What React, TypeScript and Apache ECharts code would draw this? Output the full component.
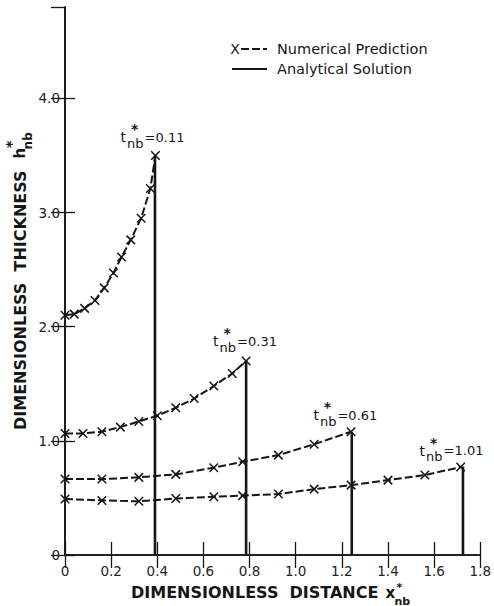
import React, { useEffect, useRef } from "react";
import * as echarts from "echarts";

// ---- data ----
const xTickValues = [0, 0.2, 0.4, 0.6, 0.8, 1.0, 1.2, 1.4, 1.6, 1.8];
const yTickValues = [0, 1, 2, 3, 4];

const t011X = [0, 0.04, 0.085, 0.13, 0.17, 0.21, 0.245, 0.285, 0.33, 0.37, 0.392];
const t011Y = [2.1, 2.11, 2.16, 2.23, 2.34, 2.47, 2.61, 2.76, 2.95, 3.21, 3.5];

const t031X = [0, 0.078, 0.16, 0.24, 0.32, 0.4, 0.48, 0.56, 0.645, 0.725, 0.785];
const t031Y = [1.065, 1.065, 1.08, 1.12, 1.17, 1.22, 1.29, 1.37, 1.48, 1.59, 1.7];

const t061X = [0, 0.16, 0.32, 0.48, 0.645, 0.77, 0.925, 1.08, 1.24];
const t061Y = [0.665, 0.665, 0.68, 0.706, 0.765, 0.816, 0.875, 0.97, 1.08];

const t101X = [0, 0.16, 0.32, 0.48, 0.645, 0.77, 0.925, 1.08, 1.24, 1.4, 1.56, 1.715];
const t101Y = [0.49, 0.478, 0.47, 0.495, 0.51, 0.52, 0.534, 0.577, 0.612, 0.656, 0.7, 0.77];

// analytical solution fronts (x position, height)
const frontX = [0.39, 0.785, 1.243, 1.725];
const frontH = [3.5, 1.7, 1.08, 0.775];

// t*nb annotations: value text and anchor in data coordinates
const tLabels = ["0.11", "0.31", "0.61", "1.01"];
const tLabelX = [0.241, 0.642, 1.077, 1.537];
const tLabelY = [3.66, 1.874, 1.226, 0.911];

const INK = "#161616";
const FONT = '"DejaVu Sans", "Liberation Sans", sans-serif';
const X_SYMBOL = "path://M0,0L10,10M10,0L0,10";

function measure(text: string, font: string): number {
  const c = document.createElement("canvas").getContext("2d");
  if (!c) return text.length * 8;
  c.font = font;
  return c.measureText(text).width;
}

function fmt(v: number): string {
  if (Math.abs(v) < 1e-9) return "0";
  return v.toFixed(1);
}

export default function App() {
  const ref = useRef<HTMLDivElement>(null);

  useEffect(() => {
    document.body.style.margin = "0";
    const chart = echarts.init(ref.current!, null, { renderer: "svg" });

    const numerical = [
      [t011X, t011Y],
      [t031X, t031Y],
      [t061X, t061Y],
      [t101X, t101Y],
    ].map(([xs, ys], k) => ({
      type: "line",
      name: "Numerical Prediction " + k,
      data: xs.map((x, i) => [x, ys[i]]),
      symbol: X_SYMBOL,
      symbolSize: 8.5,
      showAllSymbol: true,
      itemStyle: { color: INK, borderColor: INK, borderWidth: 1.5 },
      lineStyle: { color: INK, width: 2, type: [8, 3] },
      z: 3,
    }));

    const analytical = frontX.map((x, i) => ({
      type: "line",
      name: "Analytical Solution " + i,
      data: [
        [x, 0],
        [x, frontH[i]],
      ],
      symbol: "none",
      lineStyle: { color: INK, width: 2.6, type: "solid" },
      z: 4,
    }));

    const axisLine = { show: true, lineStyle: { color: INK, width: 1.6 } };

    chart.setOption({
      animation: false,
      backgroundColor: "#ffffff",
      grid: { left: 65, right: 11, top: 7, bottom: 51, containLabel: false },
      xAxis: [
        {
          type: "value",
          min: 0,
          max: 1.8,
          interval: 0.2,
          position: "bottom",
          axisLine,
          axisTick: { show: true, inside: true, length: 13, lineStyle: { color: INK, width: 1.3 } },
          axisLabel: {
            show: true,
            margin: 9,
            color: "#222",
            fontFamily: FONT,
            fontSize: 13.5,
            formatter: (v: number) => (xTickValues.some((t) => Math.abs(t - v) < 1e-6) ? fmt(v) : ""),
          },
          splitLine: { show: false },
        },
        {
          type: "value",
          min: 0,
          max: 1.8,
          interval: 0.2,
          position: "top",
          axisLine,
          axisTick: { show: true, inside: true, length: 13, lineStyle: { color: INK, width: 1.3 } },
          axisLabel: { show: false },
          splitLine: { show: false },
        },
      ],
      yAxis: [
        {
          type: "value",
          min: 0,
          max: 4.8,
          interval: 1,
          position: "left",
          axisLine,
          axisTick: { show: true, inside: true, length: 10, lineStyle: { color: INK, width: 1.3 } },
          axisLabel: {
            show: true,
            margin: 5,
            color: "#222",
            fontFamily: FONT,
            fontSize: 13.5,
            showMaxLabel: false,
            formatter: (v: number) => (yTickValues.some((t) => Math.abs(t - v) < 1e-6) ? fmt(v) : ""),
          },
          splitLine: { show: false },
        },
        {
          type: "value",
          min: 0,
          max: 4.8,
          interval: 1,
          position: "right",
          axisLine,
          axisTick: { show: true, inside: true, length: 14, lineStyle: { color: INK, width: 1.3 } },
          axisLabel: { show: false },
          splitLine: { show: false },
        },
      ],
      series: [...analytical, ...numerical],
    });

    // ---- graphic: legend, annotations, axis titles ----
    const txt = (text: string, x: number, y: number, font: string, align = "left", valign = "middle") => ({
      type: "text",
      x,
      y,
      silent: true,
      style: {
        text,
        font,
        fill: INK,
        textAlign: align,
        align,
        textVerticalAlign: valign,
        verticalAlign: valign,
      },
    });

    const legendFont = `14.5px ${FONT}`;
    const graphic: any[] = [
      txt("X", 235, 49, `14px ${FONT}`, "center"),
      {
        type: "line",
        silent: true,
        shape: { x1: 241, y1: 49, x2: 267, y2: 49 },
        style: { stroke: INK, lineWidth: 1.8, lineDash: [8, 3] },
      },
      txt("Numerical Prediction", 277, 49, legendFont),
      {
        type: "line",
        silent: true,
        shape: { x1: 232, y1: 69, x2: 267, y2: 69 },
        style: { stroke: INK, lineWidth: 2.2 },
      },
      txt("Analytical Solution", 277, 69, legendFont),
    ];

    tLabels.forEach((lab, i) => {
      const p = chart.convertToPixel({ gridIndex: 0 }, [tLabelX[i], tLabelY[i]]) as number[];
      const X = p[0];
      const Y = p[1];
      graphic.push(txt("t", X, Y, `14px ${FONT}`));
      graphic.push(txt("*", X + 14, Y - 8, `bold 14px ${FONT}`, "center"));
      graphic.push(txt("nb", X + 6.5, Y + 6, `13px ${FONT}`));
      graphic.push(txt("=" + lab, X + 24, Y, `13px ${FONT}`));
    });

    // x axis title
    const titleFont = `bold 16px ${FONT}`;
    const xTitle = "DIMENSIONLESS  DISTANCE";
    const xW = measure(xTitle, titleFont);
    const xStart = 131;
    const xx = xStart + xW + 7;
    graphic.push(txt(xTitle, xStart, 592, titleFont));
    graphic.push(txt("x", xx, 593, `bold 15px ${FONT}`));
    graphic.push(txt("*", xx + 14, 587, `bold 11px ${FONT}`, "center"));
    graphic.push(txt("nb", xx + 9, 601, `bold 11px ${FONT}`));

    // y axis title (rotated, reading bottom to top)
    const yTitle = "DIMENSIONLESS  THICKNESS";
    const yW = measure(yTitle, titleFont);
    const hx = yW + 12;
    graphic.push({
      type: "group",
      x: 20,
      y: 430,
      rotation: Math.PI / 2,
      silent: true,
      children: [
        txt(yTitle, 0, 0, titleFont),
        txt("h", hx, 0, `bold 15px ${FONT}`),
        txt("*", hx + 14, -9, `bold 14px ${FONT}`, "center"),
        txt("nb", hx + 9, 8, `bold 12px ${FONT}`),
      ],
    });

    chart.setOption({ graphic });

    return () => {
      chart.dispose();
    };
  }, []);

  return (
    <div
      ref={ref}
      style={{ position: "absolute", left: 0, top: 0, width: 494, height: 606, background: "#fff" }}
    />
  );
}
